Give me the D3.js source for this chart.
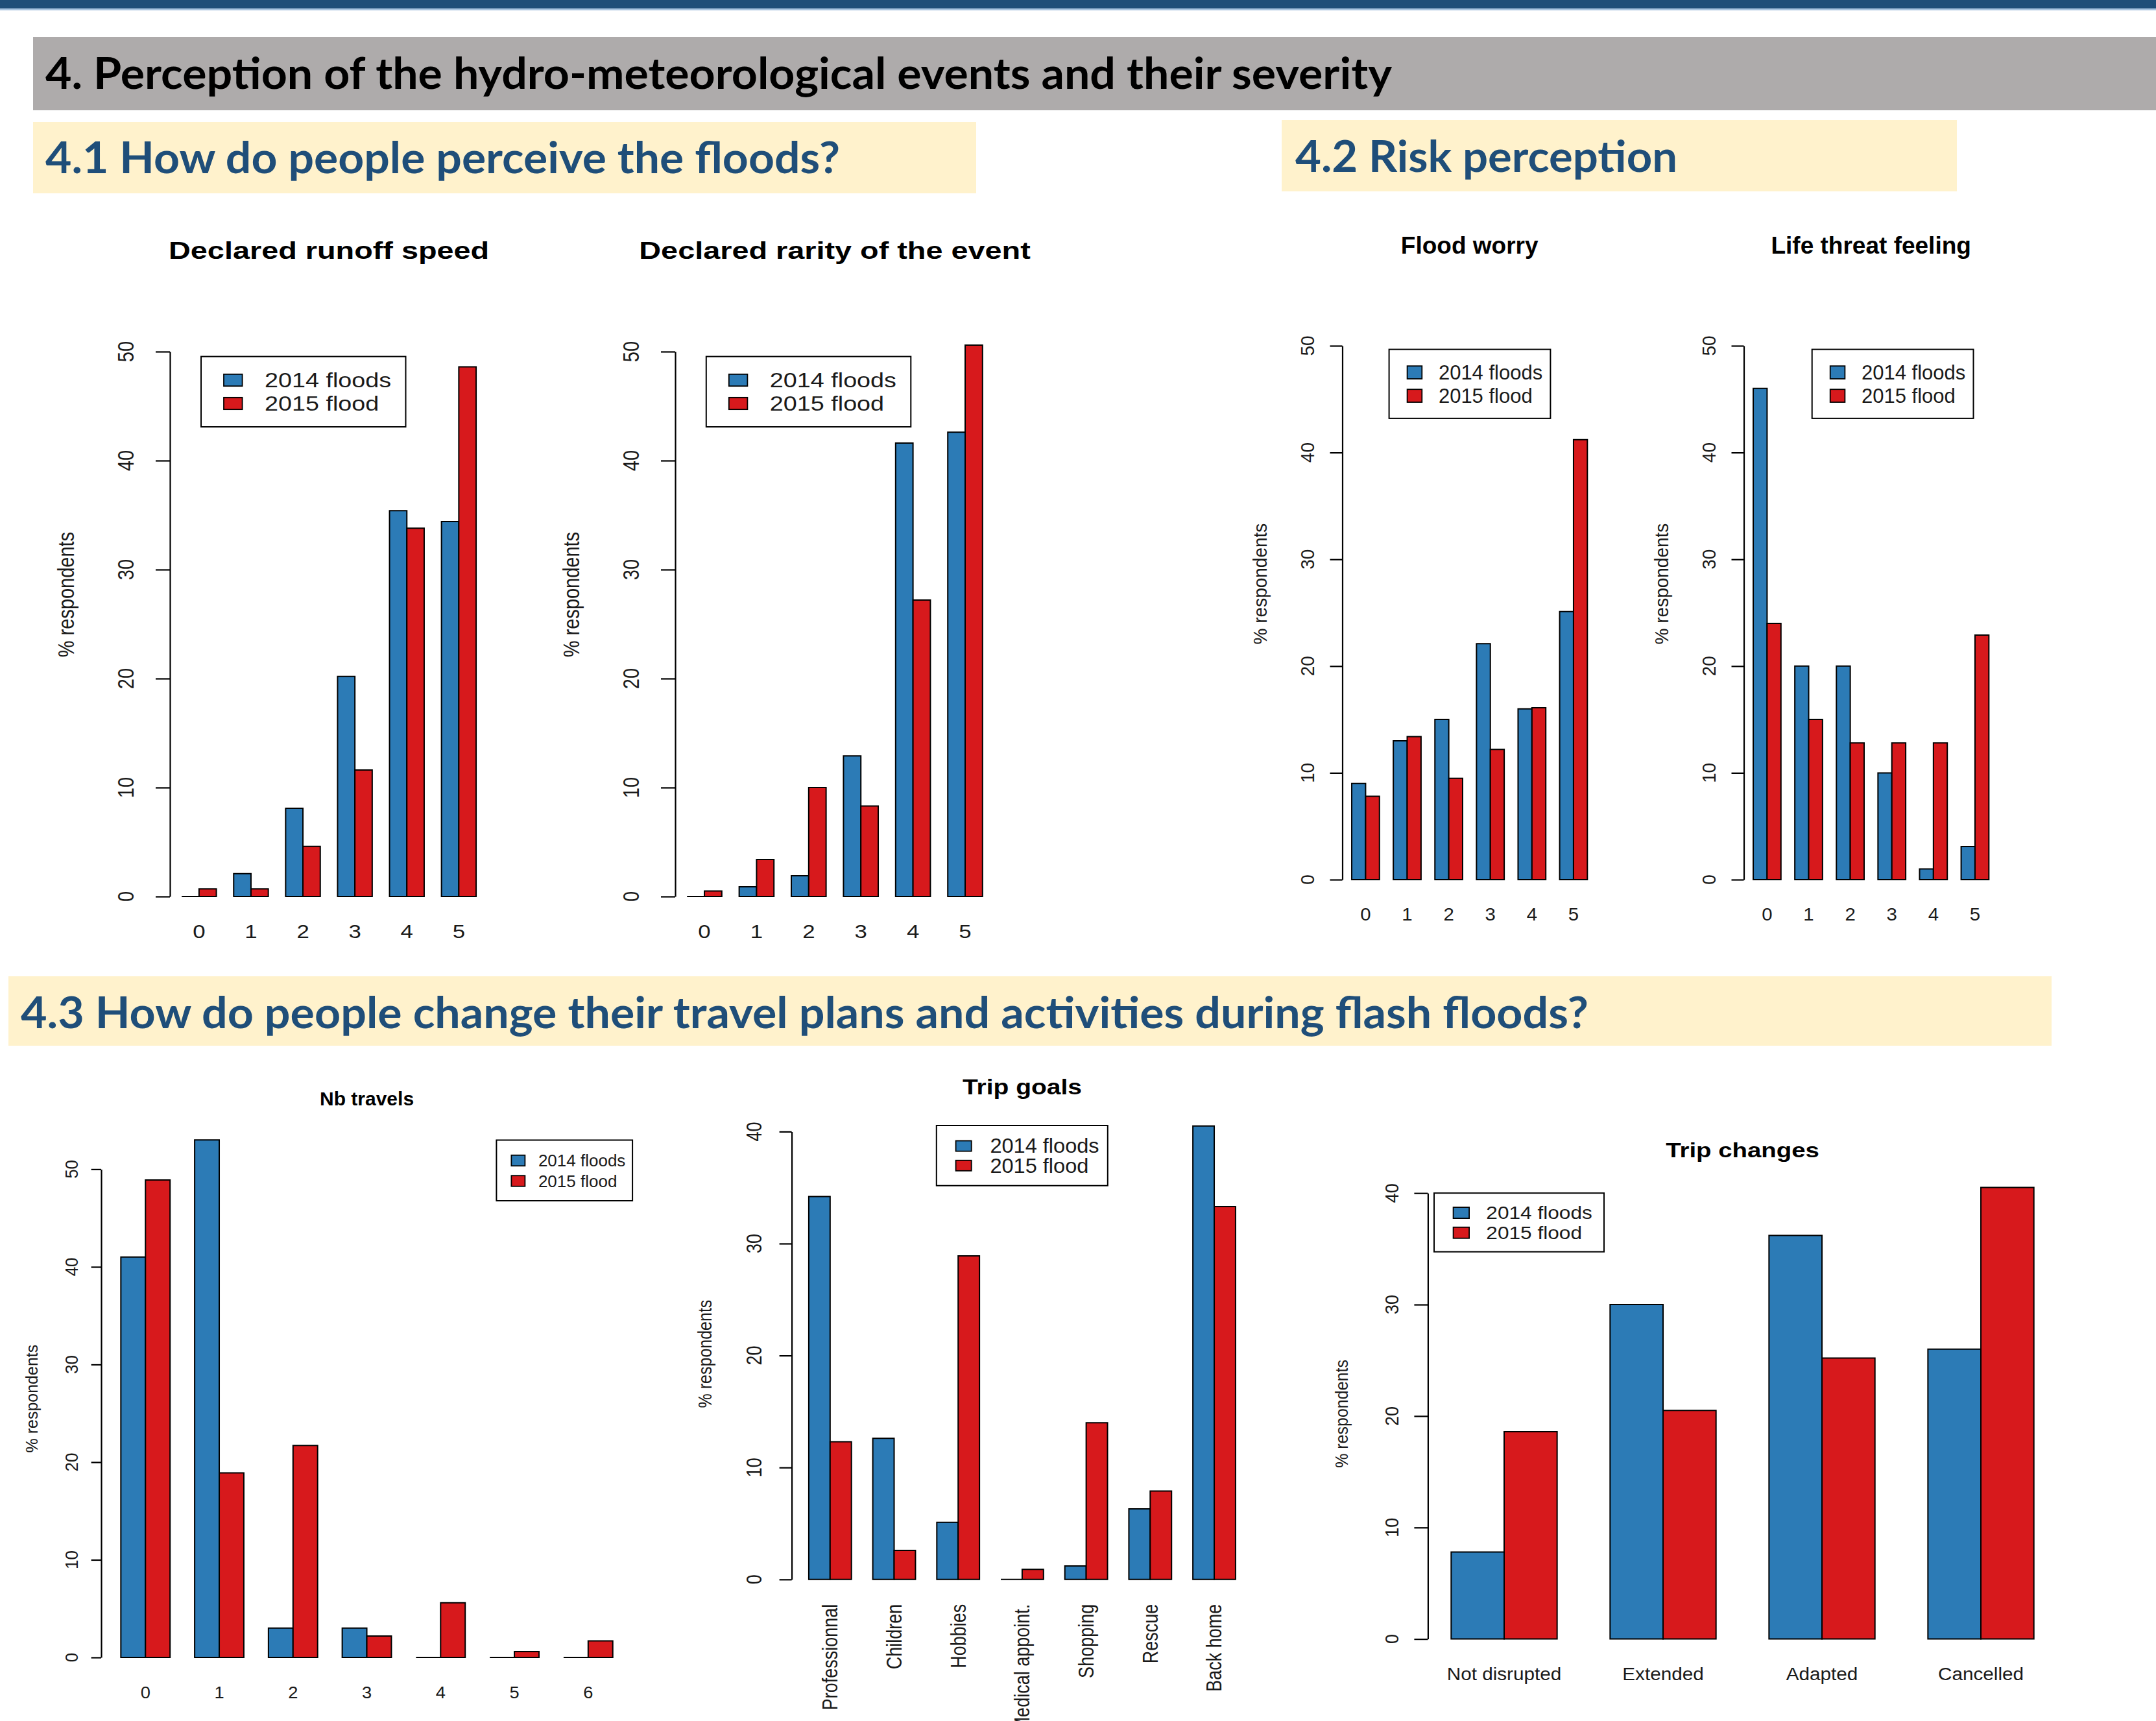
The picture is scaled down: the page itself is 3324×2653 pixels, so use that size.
<!DOCTYPE html>
<meta charset="utf-8">
<body style="margin:0">
<script src="https://cdn.jsdelivr.net/npm/d3@7/dist/d3.min.js"></script>
<script>
var seriesNames = ["2014 floods", "2015 flood"];
var ticks50 = [0, 10, 20, 30, 40, 50];
var ticks40 = [0, 10, 20, 30, 40];

var scoreCats = ["0", "1", "2", "3", "4", "5"];
var runoff2014 = [0, 2.1, 8.1, 20.2, 35.4, 34.4];
var runoff2015 = [0.7, 0.7, 4.6, 11.6, 33.8, 48.6];
var rarity2014 = [0, 0.9, 1.9, 12.9, 41.6, 42.6];
var rarity2015 = [0.5, 3.4, 10.0, 8.3, 27.2, 50.6];
var worry2014 = [9.0, 13.0, 15.0, 22.1, 16.0, 25.1];
var worry2015 = [7.8, 13.4, 9.5, 12.2, 16.1, 41.2];
var threat2014 = [46.0, 20.0, 20.0, 10.0, 1.0, 3.1];
var threat2015 = [24.0, 15.0, 12.8, 12.8, 12.8, 22.9];

var travelCats = ["0", "1", "2", "3", "4", "5", "6"];
var travels2014 = [41.0, 53.0, 3.0, 3.0, 0, 0, 0];
var travels2015 = [48.9, 18.9, 21.7, 2.2, 5.6, 0.6, 1.7];

var goalCats = ["Professionnal", "Children", "Hobbies", "Medical appoint.", "Shopping", "Rescue", "Back home"];
var goals2014 = [34.2, 12.6, 5.1, 0, 1.2, 6.3, 40.5];
var goals2015 = [12.3, 2.6, 28.9, 0.9, 14.0, 7.9, 33.3];

var changeCats = ["Not disrupted", "Extended", "Adapted", "Cancelled"];
var changes2014 = [7.8, 30.0, 36.2, 26.0];
var changes2015 = [18.6, 20.5, 25.2, 40.5];

var colors = ["#2C7BB6", "#D7191C"];

var W = 3324, H = 2653;
var svg = d3.select("body").append("svg")
    .attr("width", W).attr("height", H)
    .style("display", "block").style("background", "#fff");

var RFONT = "'Liberation Sans', Arial, sans-serif";
var HFONT = "Lato, 'Open Sans', sans-serif";

// ---- poster headers ----
svg.append("rect").attr("x", 0).attr("y", 0).attr("width", W).attr("height", 13).attr("fill", "#1F4E79");
svg.append("rect").attr("x", 0).attr("y", 13).attr("width", W).attr("height", 3).attr("fill", "#A9C4E0");

function header(x, y, w, h, fill, tx, ty, tlen, str, col) {
  svg.append("rect").attr("x", x).attr("y", y).attr("width", w).attr("height", h).attr("fill", fill);
  svg.append("text").attr("x", tx).attr("y", ty)
      .attr("font-family", HFONT).attr("font-weight", "bold").attr("font-size", 67)
      .attr("fill", col)
      .attr("textLength", tlen).attr("lengthAdjust", "spacingAndGlyphs")
      .text(str);
}
header(51, 57, W - 51, 113, "#AEABAB", 70, 137, 2076,
       "4. Perception of the hydro-meteorological events and their severity", "#000");
header(51, 188, 1454, 110, "#FFF2CC", 70, 267, 1225, "4.1 How do people perceive the floods?", "#1F4E79");
header(1976, 185, 1041, 110, "#FFF2CC", 1997, 265, 589, "4.2 Risk perception", "#1F4E79");
header(13, 1505, 3150, 107, "#FFF2CC", 32, 1585, 2417,
       "4.3 How do people change their travel plans and activities during flash floods?", "#1F4E79");

// ---- helpers ----
function label(g, x, y, s, o) {
  return g.append("text")
      .attr("transform", "translate(" + x + "," + y + ") scale(" + (o.sx || 1) + ",1)" + (o.rot ? " rotate(" + o.rot + ")" : ""))
      .attr("font-family", RFONT)
      .attr("font-size", o.size)
      .attr("font-weight", o.weight || "normal")
      .attr("text-anchor", o.anchor || "middle")
      .attr("dominant-baseline", o.base || "auto")
      .attr("fill", o.fill || "#1a1a1a")
      .text(s);
}

function barChart(c) {
  var n = c.cats.length;
  var span = 3 * n - 1;
  var lo = 1 - 0.04 * span, hi = 3 * n + 0.04 * span;
  var x = d3.scaleLinear().domain([lo, hi]).range([c.left, c.left + c.unit * (hi - lo)]);
  var y = d3.scaleLinear().domain([0, c.top]).range([c.y0, c.yTop]);
  var g = svg.append("g");

  // title
  label(g, (x(lo) + x(hi)) / 2, c.titleY, c.title, {size: c.tfs, sx: c.tsx, weight: "bold", fill: "#000"});

  // bars (drawn as closed paths so that zero values still show as a flat outline)
  c.cats.forEach(function(k, i) {
    [c.a[i], c.b[i]].forEach(function(v, s) {
      var x0 = x(3 * i + 1 + s), x1 = x(3 * i + 2 + s);
      var p = d3.path();
      p.moveTo(x0, y(0)); p.lineTo(x0, y(v)); p.lineTo(x1, y(v)); p.lineTo(x1, y(0)); p.closePath();
      g.append("path").attr("d", p.toString())
          .attr("fill", colors[s])
          .attr("stroke", "#000").attr("stroke-width", 2);
    });
  });

  // y axis
  var ax = g.append("g").attr("transform", "translate(" + c.left + ",0)")
      .call(d3.axisLeft(y).tickValues(c.ticks).tickSize(c.tickLen).tickSizeOuter(0).tickFormat(""));
  ax.selectAll("path, line").attr("stroke", "#000").attr("stroke-width", 2.2);
  c.ticks.forEach(function(t) {
    label(g, c.left - c.tickLabOff, y(t), String(t), {size: c.afs, sx: c.asx, rot: -90, base: "central"});
  });
  label(g, c.left - c.ylabOff, y(c.ylabMid), "% respondents", {size: c.yfs, sx: c.asx, rot: -90, base: "central"});

  // category labels
  c.cats.forEach(function(k, i) {
    if (c.rotX) {
      label(g, x(3 * i + 2), c.y0 + c.xlabOff, k, {size: c.afs, sx: c.asx, rot: -90, anchor: "end", base: "central"});
    } else {
      label(g, x(3 * i + 2), c.y0 + c.xlabOff, k, {size: c.afs, sx: c.asx, base: "central"});
    }
  });

  // legend
  var L = c.leg;
  g.append("rect").attr("x", L.x).attr("y", L.y).attr("width", L.w).attr("height", L.h)
      .attr("fill", "#fff").attr("stroke", "#000").attr("stroke-width", 2);
  seriesNames.forEach(function(nm, s) {
    var cy = L.y + (s === 0 ? L.r1 : L.r2);
    g.append("rect").attr("x", L.x + L.sx).attr("y", cy - L.sh / 2)
        .attr("width", L.sw).attr("height", L.sh)
        .attr("fill", colors[s]).attr("stroke", "#000").attr("stroke-width", 1.8);
    label(g, L.x + L.tx, cy, nm, {size: c.lfs, sx: c.lsx, anchor: "start", base: "central"});
  });
}

// ---- the seven charts ----
var topLeft = {ticks: ticks50, top: 50, y0: 1382, yTop: 542, unit: 26.7, tickLen: 22, tickLabOff: 68,
  ylabOff: 160, ylabMid: 27.7, xlabOff: 54, titleY: 399, tfs: 36, tsx: 1.3, afs: 29, asx: 1.2, yfs: 29,
  lfs: 32, lsx: 1.18};
var topRight = {ticks: ticks50, top: 50, y0: 1356, yTop: 533, unit: 21.37, tickLen: 19, tickLabOff: 53.5,
  ylabOff: 126.5, ylabMid: 27.7, xlabOff: 53, titleY: 391, tfs: 37, tsx: 1.0, afs: 28, asx: 1.05, yfs: 28,
  lfs: 31, lsx: 1.0};

barChart(Object.assign({}, topLeft, {cats: scoreCats, a: runoff2014, b: runoff2015, left: 262,
  title: "Declared runoff speed",
  leg: {x: 310, y: 549.6, w: 315.5, h: 108.4, sx: 35, sw: 28.6, sh: 18.3, tx: 98, r1: 36.4, r2: 72.4}}));
barChart(Object.assign({}, topLeft, {cats: scoreCats, a: rarity2014, b: rarity2015, left: 1041, unit: 26.8,
  title: "Declared rarity of the event",
  leg: {x: 1088.8, y: 549.6, w: 315.5, h: 108.4, sx: 35, sw: 28.6, sh: 18.3, tx: 98, r1: 36.4, r2: 72.4}}));
barChart(Object.assign({}, topRight, {cats: scoreCats, a: worry2014, b: worry2015, left: 2069.5,
  title: "Flood worry",
  leg: {x: 2141.6, y: 538.6, w: 248.8, h: 106.3, sx: 28, sw: 22.7, sh: 19.8, tx: 76.3, r1: 35.5, r2: 71.5}}));
barChart(Object.assign({}, topRight, {cats: scoreCats, a: threat2014, b: threat2015, left: 2688.5,
  title: "Life threat feeling",
  leg: {x: 2793.7, y: 538.6, w: 248.8, h: 106.3, sx: 28, sw: 22.7, sh: 19.8, tx: 76.3, r1: 35.5, r2: 71.5}}));

barChart({cats: travelCats, a: travels2014, b: travels2015, ticks: ticks50, top: 50,
  left: 156, y0: 2555, yTop: 1802.4, unit: 37.92, tickLen: 15.4, tickLabOff: 45, ylabOff: 107, ylabMid: 26.5,
  xlabOff: 54.6, title: "Nb travels", titleY: 1704, tfs: 30, tsx: 1.0, afs: 26, asx: 1.05, yfs: 25,
  lfs: 26, lsx: 1.0,
  leg: {x: 765.4, y: 1757.5, w: 209.7, h: 93.5, sx: 23, sw: 21, sh: 16.5, tx: 64.5, r1: 31.5, r2: 63}});

barChart({cats: goalCats, a: goals2014, b: goals2015, ticks: ticks40, top: 40, rotX: true,
  left: 1220.6, y0: 2434.8, yTop: 1744.4, unit: 32.9, tickLen: 19, tickLabOff: 57.6, ylabOff: 133.6, ylabMid: 20.15,
  xlabOff: 38, title: "Trip goals", titleY: 1687, tfs: 33, tsx: 1.18, afs: 27, asx: 1.2, yfs: 25,
  lfs: 31, lsx: 1.05,
  leg: {x: 1443.8, y: 1735, w: 264, h: 92.7, sx: 29.8, sw: 24.1, sh: 16.1, tx: 82.6, r1: 31.6, r2: 61.8}});

barChart({cats: changeCats, a: changes2014, b: changes2015, ticks: ticks40, top: 40,
  left: 2201.4, y0: 2526.6, yTop: 1839.2, unit: 81.67, tickLen: 21, tickLabOff: 56, ylabOff: 132.4, ylabMid: 20.2,
  xlabOff: 53.4, title: "Trip changes", titleY: 1784, tfs: 32, tsx: 1.2, afs: 27, asx: 1.1, yfs: 25,
  lfs: 28, lsx: 1.13,
  leg: {x: 2211, y: 1839.2, w: 262, h: 90.5, sx: 29.6, sw: 24.5, sh: 17, tx: 80.3, r1: 30.4, r2: 61.1}});
</script>
</body>
